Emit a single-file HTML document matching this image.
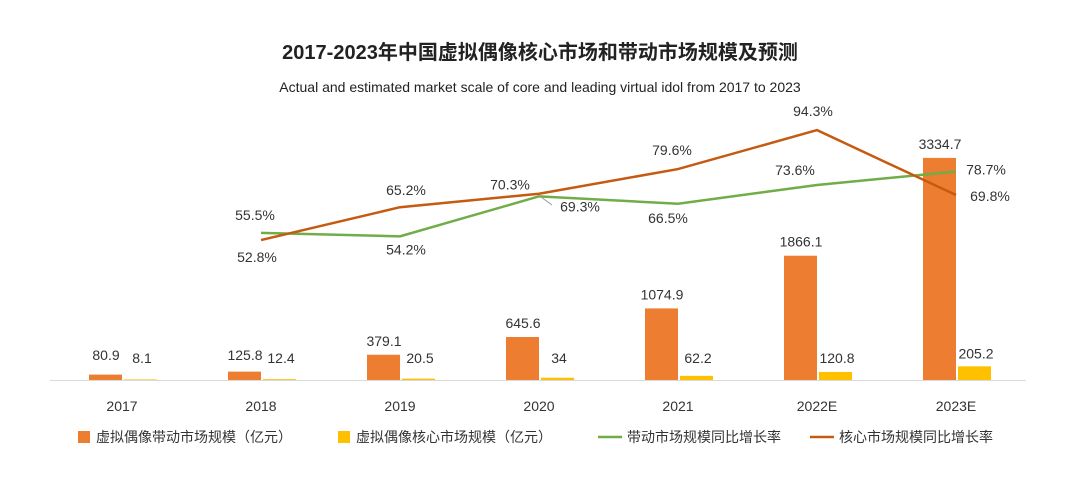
<!DOCTYPE html>
<html><head><meta charset="utf-8"><style>
body{margin:0;background:#fff;}
svg{display:block;font-family:"Liberation Sans","Noto Sans CJK SC",sans-serif;}
</style></head><body>
<svg id="chart" width="1080" height="504" viewBox="0 0 1080 504">
<text x="540" y="59" text-anchor="middle" font-size="20" font-weight="bold" fill="#222">2017-2023年中国虚拟偶像核心市场和带动市场规模及预测</text>
<text x="540" y="92" text-anchor="middle" font-size="14" fill="#222">Actual and estimated market scale of core and leading virtual idol from 2017 to 2023</text>
<line x1="50" y1="380.5" x2="1026" y2="380.5" stroke="#d9d9d9" stroke-width="1"/>
<g id="marks"></g>
<line x1="541" y1="197" x2="552" y2="205" stroke="#999" stroke-width="1"/>
<g font-size="14" fill="#333">
<rect x="78" y="431" width="12" height="12" fill="#ED7D31"/>
<text x="96" y="442">虚拟偶像带动市场规模（亿元）</text>
<rect x="338" y="431" width="12" height="12" fill="#FFC000"/>
<text x="356" y="442">虚拟偶像核心市场规模（亿元）</text>
<line x1="598" y1="437" x2="622" y2="437" stroke="#70AD47" stroke-width="2.5"/>
<text x="627" y="442">带动市场规模同比增长率</text>
<line x1="810" y1="437" x2="834" y2="437" stroke="#C55A11" stroke-width="2.5"/>
<text x="839" y="442">核心市场规模同比增长率</text>
</g>
</svg>
<script>
const categories=["2017","2018","2019","2020","2021","2022E","2023E"];
const leadingValues=[80.9,125.8,379.1,645.6,1074.9,1866.1,3334.7];
const coreValues=[8.1,12.4,20.5,34,62.2,120.8,205.2];
const leadingGrowth=[null,55.5,54.2,69.3,66.5,73.6,78.7];
const coreGrowth=[null,52.8,65.2,70.3,79.6,94.3,69.8];
const leadingGrowthLabels=[null,"55.5%","54.2%","69.3%","66.5%","73.6%","78.7%"];
const coreGrowthLabels=[null,"52.8%","65.2%","70.3%","79.6%","94.3%","69.8%"];

const NS="http://www.w3.org/2000/svg";
const g=document.getElementById('marks');
const base=380;
function xC(i){return 122+i*139;}
function yBar(v){return base-v*0.0666;}
function yRate(v){return base-v*2.65;}
function mk(tag,attrs){const e=document.createElementNS(NS,tag);for(const k in attrs)e.setAttribute(k,attrs[k]);g.appendChild(e);return e;}
function txt(x,y,s,anchor){const t=mk('text',{x:x,y:y,'text-anchor':anchor||'middle','font-size':14,fill:'#333'});t.textContent=s;return t;}

categories.forEach((c,i)=>{
  const cx=xC(i);
  const yl=yBar(leadingValues[i]);
  const b=mk('rect',{x:cx-33,y:yl,width:33,height:base-yl,fill:'#ED7D31'});
  
  
  const yc=yBar(coreValues[i]);
  const b2=mk('rect',{x:cx+2,y:yc,width:33,height:base-yc,fill:'#FFC000'});
  
  
  const t1=txt(cx-16,Math.min(yl-9,360),String(leadingValues[i]));
  
  
  const t2=txt(cx+20,Math.min(yc-8,363),String(coreValues[i]));
  
  
  const tx=txt(cx,411,c);
  
  
});

function line(vals,color,name){
  const pts=[];vals.forEach((v,i)=>{if(v!==null)pts.push(xC(i)+','+yRate(v));});
  const p=mk('polyline',{points:pts.join(' '),fill:'none',stroke:color,'stroke-width':2.5});
  
  
}
line(leadingGrowth,'#70AD47','line-leading-growth');
line(coreGrowth,'#C55A11','line-core-growth');

const offs=[null,[[-6,-13],[-4,22]],[[6,18],[6,-12]],[[41,15],[-29,-4]],[[-10,19],[-6,-14]],[[-22,-10],[-4,-14]],[[30,3],[34,6]]];
categories.forEach((c,i)=>{
  if(leadingGrowth[i]===null)return;
  const cx=xC(i);
  const a=txt(cx+offs[i][0][0],yRate(leadingGrowth[i])+offs[i][0][1],leadingGrowthLabels[i]);
  
  
  const b=txt(cx+offs[i][1][0],yRate(coreGrowth[i])+offs[i][1][1],coreGrowthLabels[i]);
  
  
});
</script>
</body></html>
